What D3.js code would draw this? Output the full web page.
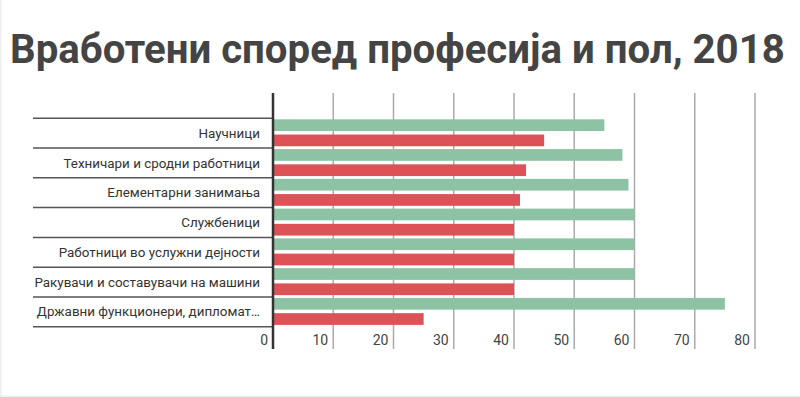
<!DOCTYPE html>
<html>
<head>
<meta charset="utf-8">
<script src="https://cdn.jsdelivr.net/npm/d3@7"></script>
<style>
  body { margin: 0; background: #fff; }
  svg { display: block; font-family: Roboto, sans-serif; }
</style>
</head>
<body>
<div id="chart"></div>
<script>
// data (percent)
const categories = [
  "Научници",
  "Техничари и сродни работници",
  "Елементарни занимања",
  "Службеници",
  "Работници во услужни дејности",
  "Ракувачи и составувачи на машини",
  "Државни функционери, дипломат…"
];
const series = ["Мажи", "Жени"];
const maleValues = [55, 58, 59, 60, 60, 60, 75];
const femaleValues = [45, 42, 41, 40, 40, 40, 25];
const xTicks = [0, 10, 20, 30, 40, 50, 60, 70, 80];
const colors = ["#8dc2a4", "#dc5257"];

const w = 800, h = 397;
const plotLeft = 273, plotRight = 755;
const plotTop = 118.3, plotBottom = 326.7;

const svg = d3.select("#chart").append("svg")
    .attr("width", w)
    .attr("height", h);

svg.append("rect")
    .attr("x", 0).attr("y", 0)
    .attr("width", w).attr("height", h)
    .attr("fill", "#fff");
// faint frame on the left / bottom like the screenshot
svg.append("rect")
    .attr("x", 0.5).attr("y", -2)
    .attr("width", w + 2).attr("height", h + 1.5)
    .attr("fill", "none")
    .attr("stroke", "#eee")
    .attr("stroke-width", 2);

svg.append("text")
    .attr("x", 10)
    .attr("y", 63)
    .attr("font-size", 40.2)
    .attr("font-weight", "bold")
    .attr("fill", "#444")
    .text("Вработени според професија и пол, 2018");

const x = d3.scaleLinear().domain([0, 80]).range([plotLeft, plotRight]);
const y = d3.scaleBand().domain(categories).range([plotTop, plotBottom]).padding(0);
const ys = d3.scaleBand().domain(series).range([1, y.bandwidth() - 1.8]).paddingInner(0.23);

// vertical gridlines
svg.selectAll(".grid")
    .data(xTicks.slice(1))
    .enter()
    .append("line")
    .attr("x1", d => x(d))
    .attr("x2", d => x(d))
    .attr("y1", 93)
    .attr("y2", 349)
    .attr("stroke", "#aaa")
    .attr("stroke-width", 1.5);

// tick labels, right-aligned left of each line
svg.selectAll(".tick")
    .data(xTicks)
    .enter()
    .append("text")
    .attr("x", d => x(d) - 5)
    .attr("y", 345)
    .attr("text-anchor", "end")
    .attr("font-size", 14)
    .attr("fill", "#444")
    .text(d => d);

const rows = categories.map((c, i) => ({name: c, values: [maleValues[i], femaleValues[i]]}));

const g = svg.selectAll(".row")
    .data(rows)
    .enter()
    .append("g")
    .attr("transform", d => `translate(0,${y(d.name)})`);

g.selectAll("rect")
    .data(d => d.values.map((v, j) => ({s: series[j], v: v, j: j})))
    .enter()
    .append("rect")
    .attr("x", x(0))
    .attr("y", d => ys(d.s))
    .attr("width", d => x(d.v) - x(0))
    .attr("height", ys.bandwidth())
    .attr("fill", d => colors[d.j]);

g.append("text")
    .attr("x", 260)
    .attr("y", y.bandwidth() / 2)
    .attr("dy", "0.35em")
    .attr("text-anchor", "end")
    .attr("font-size", 13.4)
    .attr("fill", "#333")
    .text(d => d.name);

// row separators
svg.selectAll(".sep")
    .data(d3.range(categories.length + 1))
    .enter()
    .append("line")
    .attr("x1", 33)
    .attr("x2", plotLeft)
    .attr("y1", i => plotTop + i * y.step())
    .attr("y2", i => plotTop + i * y.step())
    .attr("stroke", "#555")
    .attr("stroke-width", 1.5);

// zero axis
svg.append("line")
    .attr("x1", x(0)).attr("x2", x(0))
    .attr("y1", 93).attr("y2", 349)
    .attr("stroke", "#333")
    .attr("stroke-width", 2.5);
</script>
</body>
</html>
